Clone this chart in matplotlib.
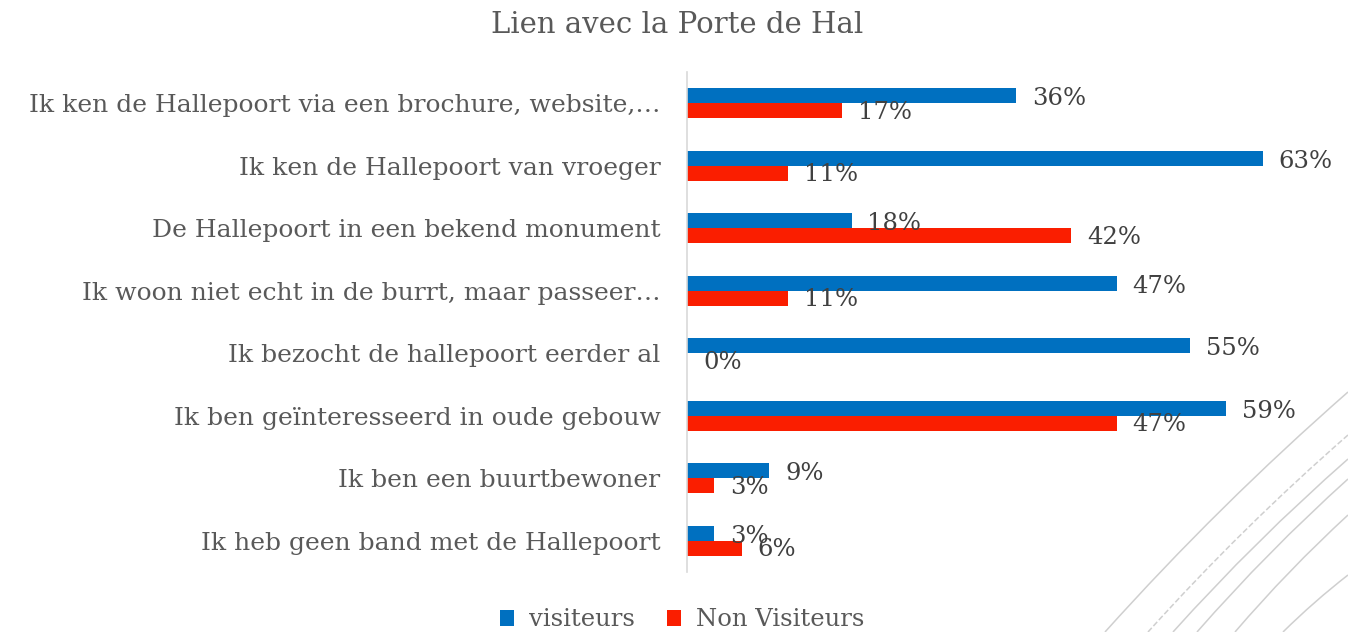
import matplotlib
matplotlib.use("Agg")
import matplotlib.pyplot as plt
from matplotlib.path import Path
from matplotlib.patches import PathPatch
import numpy as np

categories = [
    "Ik ken de Hallepoort via een brochure, website,…",
    "Ik ken de Hallepoort van vroeger",
    "De Hallepoort in een bekend monument",
    "Ik woon niet echt in de burrt, maar passeer…",
    "Ik bezocht de hallepoort eerder al",
    "Ik ben geïnteresseerd in oude gebouw",
    "Ik ben een buurtbewoner",
    "Ik heb geen band met de Hallepoort",
]
visiteurs = [36, 63, 18, 47, 55, 59, 9, 3]
non_visiteurs = [17, 11, 42, 11, 0, 47, 3, 6]
series_names = ["visiteurs", "Non Visiteurs"]
title = "Lien avec la Porte de Hal"

BLUE = "#0070C0"
RED = "#FA1E00"
LABEL_GRAY = "#595959"
VALUE_GRAY = "#404040"
FONT = ["DejaVu Serif"]

W, H = 1348, 632
fig = plt.figure(figsize=(W / 100, H / 100), dpi=100)
fig.patch.set_facecolor("white")

# decorative arcs bottom-right (figure pixel coords, y down)
arcs = [
    ((1348, 392), (1105, 632), "-"),
    ((1348, 435), (1148, 632), "--"),
    ((1348, 459), (1173, 632), "-"),
    ((1348, 479), (1197, 632), "-"),
    ((1348, 515), (1235, 632), "-"),
    ((1348, 575), (1283, 632), "-"),
]
for (x0, y0), (x1, y1), ls in arcs:
    mx, my = (x0 + x1) / 2, (y0 + y1) / 2
    dx, dy = x1 - x0, y1 - y0
    L = np.hypot(dx, dy)
    nx, ny = -dy / L, dx / L
    if nx > 0:
        nx, ny = -nx, -ny
    sag = 0.015 * L
    cx, cy = mx + 2 * sag * nx, my + 2 * sag * ny
    verts = [(x0 / W, 1 - y0 / H), (cx / W, 1 - cy / H), (x1 / W, 1 - y1 / H)]
    p = Path(verts, [Path.MOVETO, Path.CURVE3, Path.CURVE3])
    fig.add_artist(PathPatch(p, transform=fig.transFigure, fill=False,
                             edgecolor="#cfcfcf", lw=1.1, linestyle=ls,
                             zorder=0))

left_px, right_px, top_px, bottom_px = 687, 1320, 72, 572
ax = fig.add_axes([left_px / W, 1 - bottom_px / H,
                   (right_px - left_px) / W, (bottom_px - top_px) / H])
ax.set_facecolor("none")

y = np.arange(len(categories))
bh = 0.24
b1 = ax.barh(y - bh / 2, visiteurs, height=bh, color=BLUE, label=series_names[0])
b2 = ax.barh(y + bh / 2, non_visiteurs, height=bh, color=RED, label=series_names[1])

ax.set_ylim(len(categories) - 0.5, -0.5)
ax.set_xlim(0, (right_px - left_px) / 9.14)

for bars, vals, dy in ((b1, visiteurs, -2), (b2, non_visiteurs, -1)):
    for rect, v in zip(bars, vals):
        ax.annotate(f"{v}%", xy=(rect.get_width(), rect.get_y() + rect.get_height() / 2),
                    xytext=(11.5, dy), textcoords="offset points",
                    ha="left", va="center", fontsize=17.5, color=VALUE_GRAY,
                    family=FONT)

ax.set_yticks(y)
ax.set_yticklabels(categories, fontsize=18, color=LABEL_GRAY, family=FONT)
ax.tick_params(axis="y", length=0, pad=19)
ax.set_xticks([])
for s in ("top", "right", "bottom"):
    ax.spines[s].set_visible(False)
ax.spines["left"].set_color("#d9d9d9")
ax.spines["left"].set_linewidth(1.2)

fig.text(677 / W, 1 - 25 / H, title, ha="center", va="center",
         fontsize=21, color=LABEL_GRAY, family=FONT)

leg = fig.legend(handles=[b1, b2], labels=series_names, loc="center",
                 bbox_to_anchor=(682 / W, 1 - 620 / H), ncol=2, frameon=False,
                 handlelength=0.6, handleheight=0.6, handletextpad=0.6,
                 columnspacing=1.3, prop={"family": FONT, "size": 17.5})
for t in leg.get_texts():
    t.set_color(LABEL_GRAY)

fig.savefig("out.png", dpi=100)
